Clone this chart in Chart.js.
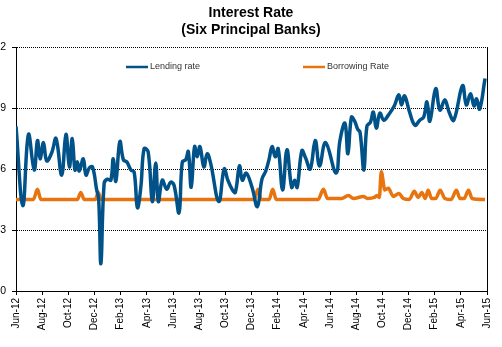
<!DOCTYPE html>
<html><head><meta charset="utf-8">
<script src="https://cdn.jsdelivr.net/npm/chart.js@4/dist/chart.umd.min.js"></script>
<style>html,body{margin:0;padding:0;background:#fff}#wrap{width:502px;height:347px}</style>
</head><body><div id="wrap"><canvas id="c" width="502" height="347"></canvas></div>
<script>
// x-axis tick labels (every 2 months, from Jun-12)
const tickLabels = ['Jun-12','Aug-12','Oct-12','Dec-12','Feb-13','Apr-13','Jun-13','Aug-13','Oct-13','Dec-13','Feb-14','Apr-14','Jun-14','Aug-14','Oct-14','Dec-14','Feb-15','Apr-15','Jun-15'];
const seriesNames = ['Lending rate', 'Borrowing Rate'];

// Lending rate: months since Jun-12, and rate (%)
const lendingMonth = [0.00,0.52,0.95,1.39,1.64,1.84,2.10,2.35,2.73,3.06,3.49,3.82,4.08,4.30,4.51,4.69,4.84,5.14,5.35,5.60,5.85,6.16,6.32,6.49,6.74,6.99,7.25,7.43,7.63,7.94,8.21,8.47,8.78,9.03,9.28,9.54,9.79,10.10,10.42,10.68,10.88,11.18,11.52,11.81,12.08,12.46,12.71,12.97,13.17,13.39,13.65,13.85,14.06,14.36,14.61,14.87,15.50,15.91,16.19,16.52,16.76,17.08,17.30,17.60,18.04,18.45,18.80,19.09,19.35,19.57,19.82,20.04,20.38,20.71,21.07,21.30,21.49,21.85,22.13,22.49,22.87,23.20,23.66,24.46,24.76,25.14,25.37,25.64,25.89,26.12,26.30,26.59,26.82,27.09,27.31,27.54,27.81,28.11,28.46,28.91,29.26,29.47,29.70,30.06,30.49,30.86,31.16,31.41,31.63,32.08,32.40,32.78,33.10,33.46,34.13,34.42,34.74,35.01,35.20,35.44,35.85];
const lendingRate  = [8.1,4.2,7.7,5.95,7.4,6.5,7.3,6.4,6.8,7.5,5.7,7.7,6.1,7.5,5.95,6.35,5.9,6.5,5.7,6.05,6.1,5.0,4.5,1.35,5.3,5.5,5.45,6.5,5.4,7.35,6.45,6.35,5.95,5.85,4.1,5.1,7.0,6.85,4.4,6.3,4.4,5.45,5.0,5.35,5.2,3.85,6.35,6.45,6.85,5.1,7.1,6.6,7.1,6.1,6.75,6.3,4.4,6.0,5.45,5.0,4.85,6.15,5.45,5.8,5.1,4.15,5.5,5.9,6.5,7.1,6.6,7.0,4.97,6.95,5.1,5.45,5.1,6.9,6.55,6.0,7.4,6.15,7.3,5.8,7.4,8.25,6.75,8.55,8.35,7.95,7.8,5.95,8.1,8.3,8.8,8.0,8.75,8.4,8.65,9.1,9.65,9.15,9.6,8.85,8.15,8.4,8.55,9.3,8.35,9.95,8.9,9.4,8.8,8.4,10.1,9.15,9.7,9.1,9.45,8.95,10.45];

// Borrowing rate: months since Jun-12, and rate (%)
const borrowingMonth = [0.00,1.33,1.64,1.90,4.69,4.95,5.22,6.06,6.29,6.51,18.21,18.50,18.74,19.35,19.62,19.89,23.09,23.50,23.81,24.40,24.88,25.41,25.79,26.55,26.86,27.39,27.58,27.77,27.92,28.19,28.46,28.84,29.26,29.60,30.06,30.44,30.74,31.01,31.28,31.50,31.77,32.08,32.42,32.78,33.26,33.66,33.94,34.25,34.59,34.86,35.85];
const borrowingRate  = [4.5,4.5,5.0,4.5,4.5,4.85,4.5,4.5,4.85,4.5,4.5,5.0,4.5,4.5,5.0,4.5,4.5,5.0,4.55,4.55,4.55,4.7,4.55,4.65,4.55,4.6,4.7,4.6,5.87,4.97,5.05,4.65,4.8,4.55,4.5,4.9,4.6,4.85,4.55,4.95,4.55,4.55,4.95,4.55,4.5,4.95,4.55,4.55,4.95,4.55,4.5];

const BLUE = 'rgb(0,82,136)';
const ORANGE = 'rgb(232,116,16)';
const FONT = "'Liberation Sans', Arial, sans-serif";

const toPts = (xs, ys) => xs.map((x, i) => ({x: x, y: ys[i]}));

const insideLegend = {
  id: 'insideLegend',
  afterDatasetsDraw(chart) {
    const {ctx, chartArea} = chart;
    const offsets = [110, 287];
    const y = chartArea.top + 20;
    ctx.save();
    chart.data.datasets.forEach((ds, i) => {
      const x0 = chartArea.left + offsets[i];
      ctx.strokeStyle = ds.borderColor;
      ctx.lineWidth = 2.5;
      ctx.beginPath();
      ctx.moveTo(x0, y);
      ctx.lineTo(x0 + 22, y);
      ctx.stroke();
      ctx.fillStyle = '#333';
      ctx.font = '9px ' + FONT;
      ctx.textBaseline = 'middle';
      ctx.textAlign = 'left';
      ctx.fillText(ds.label, x0 + 24, y);
    });
    ctx.restore();
  }
};

new Chart(document.getElementById('c'), {
  type: 'line',
  data: {
    datasets: [
      {label: seriesNames[0], data: toPts(lendingMonth, lendingRate), borderColor: BLUE, backgroundColor: BLUE, borderWidth: 3.5, pointRadius: 0, tension: 0.4, fill: false},
      {label: seriesNames[1], data: toPts(borrowingMonth, borrowingRate), borderColor: ORANGE, backgroundColor: ORANGE, borderWidth: 3.5, pointRadius: 0, cubicInterpolationMode: 'monotone', fill: false}
    ]
  },
  options: {
    responsive: false,
    animation: false,
    devicePixelRatio: 1,
    layout: {padding: 0},
    plugins: {
      legend: {display: false},
      tooltip: {enabled: false},
      title: {
        display: true,
        text: ['Interest Rate', '(Six Principal Banks)'],
        color: '#000',
        font: {family: FONT, size: 14, weight: 'bold', lineHeight: 1.2},
        padding: {top: 5, bottom: 8.4}
      }
    },
    scales: {
      x: {
        type: 'linear', min: 0, max: 36, offset: false,
        afterFit: s => { s.height = 56; },
        ticks: {stepSize: 2, autoSkip: false, minRotation: 90, maxRotation: 90, padding: 3, color: '#000',
          font: {family: FONT, size: 10},
          callback: v => tickLabels[Math.round(v / 2)]},
        grid: {drawOnChartArea: false, drawTicks: true, tickLength: 4, color: '#000'},
        border: {color: '#000', width: 1}
      },
      y: {
        type: 'linear', min: 0, max: 12, position: 'left',
        afterFit: s => { s.width = 16; },
        ticks: {stepSize: 3, padding: 6, color: '#000', font: {family: FONT, size: 10.5}},
        grid: {color: '#000', lineWidth: 1, tickLength: 4, drawTicks: true},
        border: {color: '#000', width: 1, dash: [1, 1]}
      },
      y2: {
        type: 'linear', min: 0, max: 12, position: 'right',
        afterFit: s => { s.width = 13; },
        ticks: {display: false},
        grid: {drawOnChartArea: false, drawTicks: false},
        border: {color: '#000', width: 1}
      }
    }
  },
  plugins: [insideLegend]
});
</script>
</body></html>
